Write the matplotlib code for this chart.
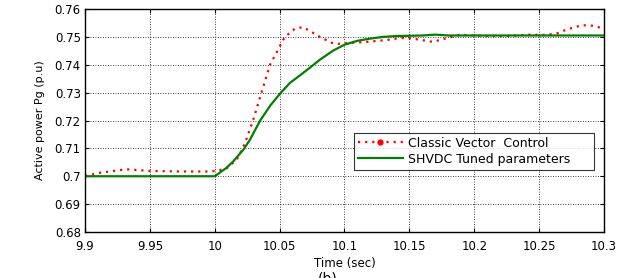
import matplotlib
matplotlib.use("Agg")
import matplotlib.pyplot as plt
from matplotlib.lines import Line2D

plt.rcParams['font.family'] = ['DejaVu Sans']

# Classic vector control (red dotted)
t_classic = [9.9, 9.912, 9.932, 9.95, 9.975, 9.994, 10.002, 10.009, 10.017,
             10.023, 10.0295, 10.036, 10.0426, 10.054, 10.062, 10.068, 10.073,
             10.081, 10.09, 10.095, 10.104, 10.117, 10.133, 10.143, 10.15,
             10.158, 10.168, 10.176, 10.189, 10.207, 10.225, 10.243, 10.256,
             10.264, 10.271, 10.283, 10.291, 10.3]
p_classic = [0.7001, 0.7013, 0.7025, 0.7019, 0.7017, 0.7017, 0.7020, 0.7028, 0.7060,
             0.7115, 0.7200, 0.7300, 0.7400, 0.7500, 0.7530, 0.7535, 0.7522,
             0.7500, 0.7479, 0.7475, 0.7478, 0.7482, 0.7489, 0.7496, 0.7495,
             0.7490, 0.7482, 0.7492, 0.7508, 0.7503, 0.7503, 0.7508, 0.7507,
             0.7513, 0.7526, 0.7542, 0.7540, 0.7530]

# SHVDC tuned parameters (green solid)
t_tuned = [9.9, 10.0, 10.009, 10.014, 10.022, 10.027, 10.035, 10.043, 10.051,
           10.058, 10.066, 10.074, 10.081, 10.091, 10.1, 10.11, 10.12, 10.13,
           10.14, 10.16, 10.17, 10.18, 10.2, 10.25, 10.3]
p_tuned = [0.7000, 0.7000, 0.7030, 0.7052, 0.7095, 0.7130, 0.7200, 0.7255, 0.7300,
           0.7335, 0.7363, 0.7392, 0.7418, 0.7450, 0.7472, 0.7486, 0.7494, 0.7500,
           0.7503, 0.7505, 0.7508, 0.7505, 0.7505, 0.7505, 0.7505]

x_ticks = [9.9, 9.95, 10.0, 10.05, 10.1, 10.15, 10.2, 10.25, 10.3]
x_tick_labels = ['9.9', '9.95', '10', '10.05', '10.1', '10.15', '10.2', '10.25', '10.3']
y_ticks = [0.68, 0.69, 0.70, 0.71, 0.72, 0.73, 0.74, 0.75, 0.76]
y_tick_labels = ['0.68', '0.69', '0.7', '0.71', '0.72', '0.73', '0.74', '0.75', '0.76']

fig = plt.figure(figsize=(6.2, 2.78), dpi=100)
ax = fig.add_axes([85 / 620, 1 - 232 / 278, 519 / 620, 223 / 278])

ax.plot(t_classic, p_classic, color='red', linestyle=(0, (1, 2.2)), linewidth=1.6)
ax.plot(t_tuned, p_tuned, color='#008000', linewidth=1.6)

ax.set_xlim(9.9, 10.3)
ax.set_ylim(0.68, 0.76)
ax.set_xticks(x_ticks)
ax.set_xticklabels(x_tick_labels)
ax.set_yticks(y_ticks)
ax.set_yticklabels(y_tick_labels)
ax.tick_params(direction='in', top=True, right=True, labelsize=8.5, length=3)
ax.tick_params(axis='x', pad=6)
ax.tick_params(axis='y', pad=3)
ax.grid(True, color='black', linestyle=(0, (1, 2)), linewidth=0.6)
for s in ax.spines.values():
    s.set_linewidth(1.0)

ax.set_xlabel('Time (sec)', fontsize=8.5, labelpad=3)
ax.set_ylabel('Active power Pg (p.u)', fontsize=8, labelpad=7)

handles = [
    Line2D([], [], color='red', linestyle=(0, (1, 2.2)), linewidth=1.6,
           marker='o', markersize=3.5),
    Line2D([], [], color='#008000', linewidth=1.6),
]
leg = ax.legend(handles, ['Classic Vector  Control', 'SHVDC Tuned parameters'],
                loc='lower left', bbox_to_anchor=(0.518, 0.28, 0.462, 0.16),
                mode='expand', fontsize=9, frameon=True, fancybox=False,
                edgecolor='black', borderpad=0.3, labelspacing=0.25,
                handlelength=3.6, handletextpad=0.4, borderaxespad=0,
                numpoints=1)
leg.get_frame().set_linewidth(0.8)

fig.text(328 / 620, 6 / 278, '(b)', fontsize=10, ha='center', va='top')

fig.savefig('out.png', dpi=100)
